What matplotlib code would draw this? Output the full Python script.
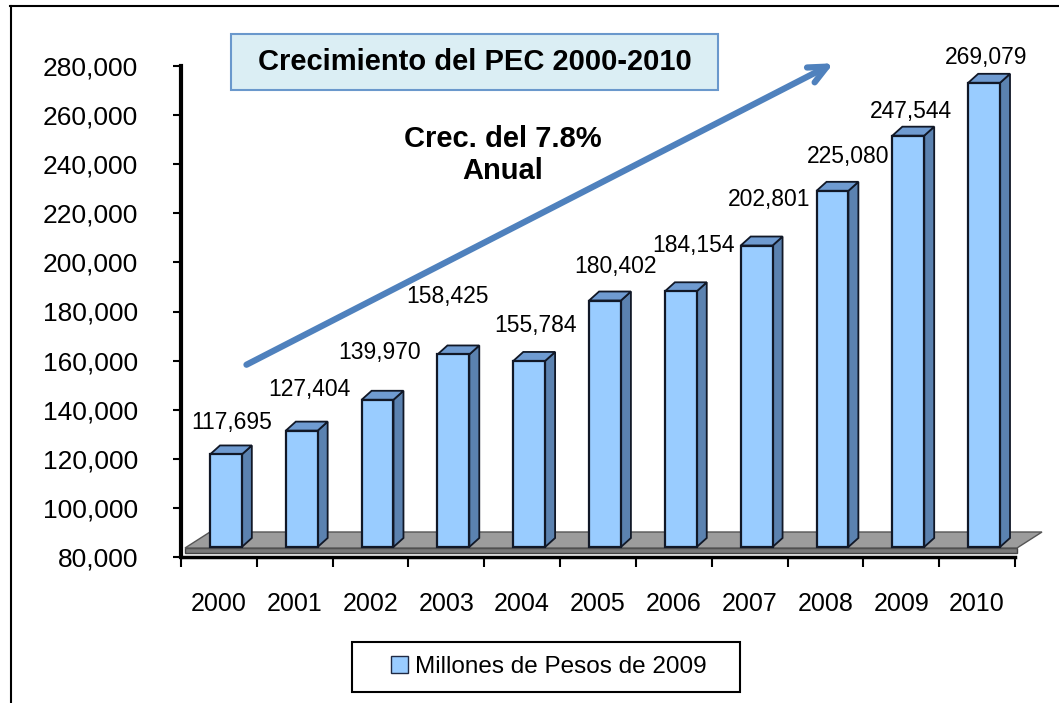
import numpy as np
import matplotlib.pyplot as plt
from matplotlib.patches import Rectangle, Polygon, Patch
from matplotlib.lines import Line2D

plt.rcParams['font.family'] = ['Liberation Sans', 'DejaVu Sans']

anios = ['2000', '2001', '2002', '2003', '2004', '2005', '2006', '2007', '2008', '2009', '2010']
valores = [117695, 127404, 139970, 158425, 155784, 180402, 184154, 202801, 225080, 247544, 269079]
y_ticks = np.arange(80000, 280001, 20000)
serie = 'Millones de Pesos de 2009'

# ajuste manual de las etiquetas (pixeles), como en el original
nudge = [(6, 32), (8, 41), (2, 47), (-6, 58), (6, 35), (10, 34),
         (13, 46), (12, 46), (16, 34), (3, 24), (2, 25)]

W, H = 1059, 703
fig = plt.figure(figsize=(W / 100, H / 100), dpi=100)
ax = fig.add_axes([181 / W, 1 - 557 / H, (1015 - 181) / W, (557 - 66) / H])
ax.set_xlim(-0.5, len(anios) - 0.5)
ax.set_ylim(80000, 280000)


def px(dx, dy):
    # desplazamiento en pixeles -> unidades de datos
    x0, y0 = ax.transData.transform((0, 80000))
    x1, y1 = ax.transData.inverted().transform((x0 + dx, y0 + dy))
    return x1, y1 - 80000


# piso gris
fx0, fy0 = px(4, 9)
fx1, _ = px(2, 9)
ddx, ddy = px(25, 16)
_, th = px(0, 5)
x_ini, x_fin = -0.5 + fx0, len(anios) - 0.5 + fx1
base = 80000 + fy0
ax.add_patch(Polygon([(x_ini, base - th), (x_fin, base - th), (x_fin, base), (x_ini, base)],
                     closed=True, facecolor='#7a7a7a', edgecolor='#444444', lw=1,
                     zorder=1, clip_on=False))
ax.add_patch(Polygon([(x_ini, base), (x_fin, base), (x_fin + ddx, base + ddy), (x_ini + ddx, base + ddy)],
                     closed=True, facecolor='#9c9c9c', edgecolor='#555555', lw=1,
                     zorder=1, clip_on=False))

# barras con efecto 3D
ancho = 0.42
sx, sy = px(7, 10)
dx, dy = px(10, 9)
for i, v in enumerate(valores):
    xl = i - ancho / 2 + sx
    xr = xl + ancho
    y0 = 80000 + sy
    y1 = v + sy
    ax.add_patch(Polygon([(xr, y0), (xr + dx, y0 + dy), (xr + dx, y1 + dy), (xr, y1)],
                         closed=True, facecolor='#5b82b0', edgecolor='#111827', lw=1.3,
                         zorder=3, clip_on=False))
    ax.add_patch(Polygon([(xl, y1), (xr, y1), (xr + dx, y1 + dy), (xl + dx, y1 + dy)],
                         closed=True, facecolor='#6f9bd1', edgecolor='#111827', lw=1.3,
                         zorder=3, clip_on=False))
    ax.add_patch(Rectangle((xl, y0), ancho, v - 80000, facecolor='#99ccff',
                           edgecolor='#111827', lw=1.6, zorder=4, clip_on=False))
    ax.annotate(f'{v:,}', xy=(i + sx, y1), xytext=nudge[i], textcoords='offset pixels',
                ha='center', va='center', fontsize=16.5, zorder=6)

# ejes
for s in ['top', 'right']:
    ax.spines[s].set_visible(False)
ax.spines['left'].set_linewidth(3)
ax.spines['bottom'].set_linewidth(2.5)
ax.set_yticks(y_ticks)
ax.set_yticklabels([f'{t:,}' for t in y_ticks], fontsize=19)
ax.tick_params(axis='y', length=6, width=1.5, pad=25)
ax.set_xticks(np.arange(-0.5, len(anios), 1))
ax.set_xticklabels([])
ax.tick_params(axis='x', length=7, width=1.5)
ax.set_xticks(np.arange(len(anios)), minor=True)
ax.set_xticklabels(anios, minor=True, fontsize=18)
ax.tick_params(axis='x', which='minor', length=0, pad=25)
ax.patch.set_visible(False)

# flecha de crecimiento
ax.annotate('', xy=(836 / W, 1 - 62 / H), xytext=(244 / W, 1 - 366 / H),
            xycoords='figure fraction', textcoords='figure fraction',
            arrowprops=dict(arrowstyle='->,head_length=1.3,head_width=0.6',
                            color='#4f81bd', lw=4.5), zorder=7)

fig.text(503 / W, 1 - 155 / H, 'Crec. del 7.8%\nAnual', ha='center', va='center',
         fontsize=21, fontweight='bold', linespacing=1.2)

# cuadro de titulo
fig.add_artist(Rectangle((231 / W, 1 - 90 / H), (718 - 231) / W, 56 / H,
                         transform=fig.transFigure, facecolor='#dbeef4',
                         edgecolor='#6a98cc', lw=1.5))
fig.text(474.5 / W, 1 - 62 / H, 'Crecimiento del PEC 2000-2010', ha='center', va='center',
         fontsize=21, fontweight='bold')

# leyenda
fig.add_artist(Rectangle((352 / W, 1 - 692 / H), (740 - 352) / W, 50 / H,
                         transform=fig.transFigure, facecolor='white',
                         edgecolor='black', lw=1.5))
leg = fig.legend(handles=[Patch(facecolor='#99ccff', edgecolor='#1f2a44', label=serie)],
                 loc='center', bbox_to_anchor=(549 / W, 1 - 667 / H), fontsize=17.5,
                 frameon=False, handlelength=0.7, handleheight=0.7, handletextpad=0.3,
                 borderpad=0, borderaxespad=0)

# marco exterior
fig.add_artist(Line2D([10.5 / W, 10.5 / W], [0, 1 - 6 / H], transform=fig.transFigure,
                      color='black', lw=1.5))
fig.add_artist(Line2D([10 / W, 1], [1 - 6 / H, 1 - 6 / H], transform=fig.transFigure,
                      color='black', lw=1.5))

fig.savefig('out.png', dpi=100)
